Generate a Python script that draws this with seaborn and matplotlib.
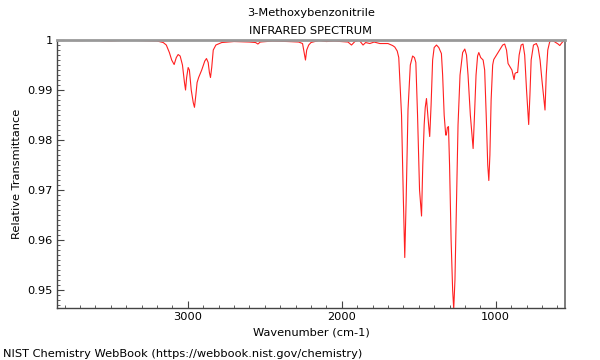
import numpy as np
import pandas as pd
import matplotlib
matplotlib.use("Agg")
import matplotlib.pyplot as plt
from matplotlib.ticker import MultipleLocator, FuncFormatter
import seaborn as sns

# --- data ---
wavenumber = [
    3850, 3700, 3600, 3500, 3400, 3300, 3200, 3160, 3140, 3120, 3105, 3089,
    3075, 3063, 3050, 3035, 3022, 3015, 3008, 2998, 2990, 2978, 2965, 2957,
    2948, 2940, 2930, 2910, 2890, 2879, 2868, 2860, 2853, 2845, 2835, 2818,
    2780, 2700, 2600, 2560, 2545, 2530, 2450, 2350, 2280, 2255, 2245, 2236,
    2228, 2215, 2200, 2150, 2100, 2050, 2000, 1960, 1937, 1915, 1888, 1875,
    1862, 1845, 1818, 1790, 1753, 1700, 1670, 1656, 1640, 1630, 1612, 1600,
    1591, 1582, 1570, 1555, 1540, 1528, 1519, 1508, 1495, 1482, 1474, 1465,
    1458, 1450, 1444, 1436, 1429, 1420, 1410, 1400, 1385, 1370, 1353, 1345,
    1335, 1325, 1321, 1314, 1307, 1300, 1290, 1280, 1273, 1265, 1255, 1245,
    1232, 1215, 1201, 1190, 1180, 1165, 1147, 1138, 1128, 1118, 1110, 1098,
    1082, 1072, 1062, 1052, 1045, 1038, 1030, 1020, 1013, 995, 975, 955,
    942, 930, 920, 905, 895, 881, 875, 866, 858, 848, 835, 823,
    812, 800, 786, 778, 770, 755, 736, 725, 712, 700, 680, 672,
    662, 650, 638, 620, 605, 595, 584, 572, 560, 552,
]
transmittance = [
    0.99995, 0.99990, 0.99995, 0.99985, 0.99995, 0.99990, 0.99980, 0.99950, 0.99900, 0.99750, 0.99600, 0.99510,
    0.99650, 0.99710, 0.99680, 0.99500, 0.99150, 0.99000, 0.99250, 0.99450, 0.99400, 0.99000, 0.98750, 0.98654,
    0.98900, 0.99150, 0.99250, 0.99400, 0.99580, 0.99630, 0.99550, 0.99350, 0.99250, 0.99450, 0.99800, 0.99900,
    0.99950, 0.99970, 0.99960, 0.99950, 0.99920, 0.99960, 0.99980, 0.99970, 0.99960, 0.99930, 0.99750, 0.99600,
    0.99800, 0.99900, 0.99950, 0.99990, 0.99970, 0.99980, 0.99970, 0.99960, 0.99900, 0.99970, 1.00000, 0.99950,
    0.99900, 0.99950, 0.99930, 0.99960, 0.99930, 0.99930, 0.99890, 0.99860, 0.99780, 0.99650, 0.98500, 0.96800,
    0.95650, 0.96800, 0.98600, 0.99500, 0.99680, 0.99650, 0.99550, 0.98500, 0.97000, 0.96480, 0.97500, 0.98300,
    0.98650, 0.98830, 0.98600, 0.98300, 0.98070, 0.98700, 0.99600, 0.99850, 0.99900, 0.99850, 0.99730, 0.99300,
    0.98500, 0.98100, 0.98100, 0.98250, 0.98270, 0.97500, 0.96000, 0.95000, 0.94620, 0.95200, 0.96800, 0.98300,
    0.99300, 0.99750, 0.99820, 0.99700, 0.99300, 0.98500, 0.97830, 0.98500, 0.99300, 0.99680, 0.99750, 0.99650,
    0.99600, 0.99400, 0.98500, 0.97500, 0.97190, 0.97700, 0.98800, 0.99500, 0.99610, 0.99700, 0.99800, 0.99900,
    0.99920, 0.99800, 0.99530, 0.99450, 0.99400, 0.99210, 0.99330, 0.99350, 0.99350, 0.99700, 0.99900, 0.99920,
    0.99700, 0.99000, 0.98310, 0.98900, 0.99600, 0.99900, 0.99930, 0.99850, 0.99600, 0.99200, 0.98600, 0.99300,
    0.99800, 0.99960, 0.99990, 0.99970, 0.99940, 0.99920, 0.99890, 0.99940, 0.99980, 0.99990,
]

title_lines = ["3-Methoxybenzonitrile", "INFRARED SPECTRUM"]
x_label = "Wavenumber (cm-1)"
y_label = "Relative Transmittance"
footer = "NIST Chemistry WebBook (https://webbook.nist.gov/chemistry)"

df = pd.DataFrame({"wavenumber": wavenumber, "transmittance": transmittance})

sns.set_style("white")
plt.rcParams["font.family"] = ["DejaVu Sans"]
plt.rcParams["text.color"] = "black"
plt.rcParams["axes.labelcolor"] = "black"
plt.rcParams["xtick.color"] = "#444444"
plt.rcParams["ytick.color"] = "#444444"
plt.rcParams["xtick.labelcolor"] = "black"
plt.rcParams["ytick.labelcolor"] = "black"
FS = 8.2

fig = plt.figure(figsize=(6, 3.6), dpi=100)
ax = fig.add_axes([0.095, 0.1444, 0.8467, 0.7444])

sns.lineplot(data=df, x="wavenumber", y="transmittance", ax=ax,
             color="#ff2020", linewidth=0.8, sort=False, estimator=None)

ax.set_xlim(3850, 550)
ax.set_ylim(0.9464, 1.0)

ax.xaxis.set_major_locator(MultipleLocator(1000))
ax.xaxis.set_minor_locator(MultipleLocator(100))
ax.yaxis.set_major_locator(MultipleLocator(0.01))
ax.yaxis.set_minor_locator(MultipleLocator(0.001))
ax.yaxis.set_major_formatter(FuncFormatter(lambda v, p: f"{v:g}"))

ax.tick_params(axis="both", which="both", bottom=True, left=True, top=False, right=False)
ax.tick_params(axis="both", which="major", direction="in", length=5, width=0.8,
               labelsize=FS, pad=3)
ax.tick_params(axis="both", which="minor", direction="in", length=2.5, width=0.6)

ax.spines["top"].set_color("#999999")
ax.spines["top"].set_linewidth(2)
ax.spines["right"].set_color("#666666")
ax.spines["right"].set_linewidth(1.2)
ax.spines["left"].set_color("#444444")
ax.spines["bottom"].set_color("#444444")
ax.spines["left"].set_linewidth(1)
ax.spines["bottom"].set_linewidth(1)

ax.set_xlabel(x_label, fontsize=FS, labelpad=4)
ax.set_ylabel(y_label, fontsize=FS, labelpad=4)

fig.text(0.518, 0.963, title_lines[0], ha="center", va="center", fontsize=FS)
fig.text(0.518, 0.915, title_lines[1], ha="center", va="center", fontsize=FS)
fig.text(0.005, 0.018, footer, ha="left", va="center", fontsize=FS)

fig.savefig("out.png", dpi=100)
